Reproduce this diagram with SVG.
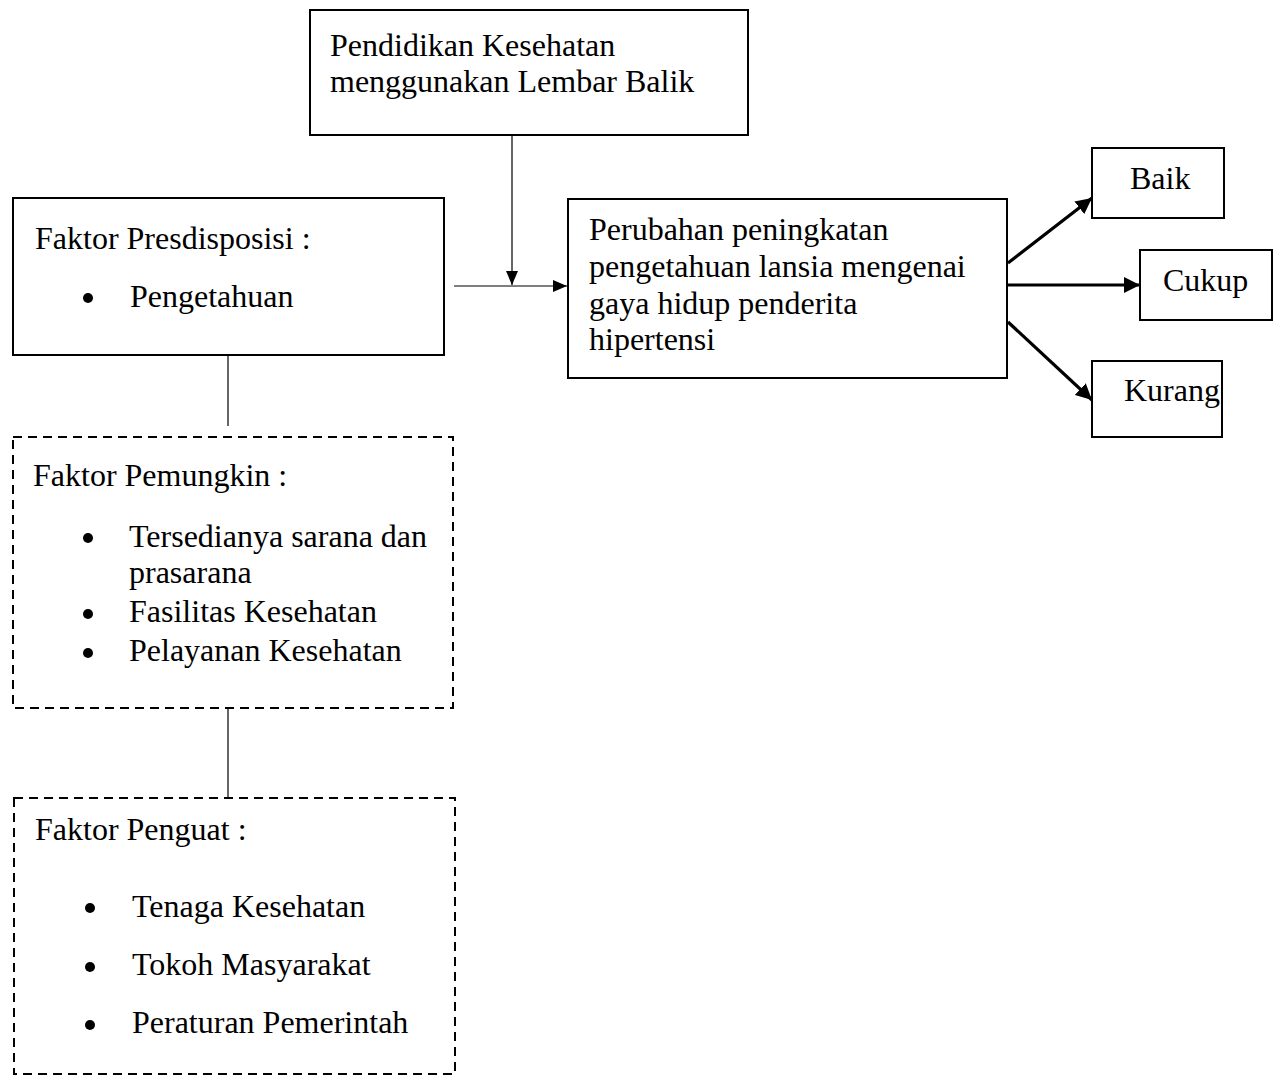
<svg xmlns="http://www.w3.org/2000/svg" width="1280" height="1077" viewBox="0 0 1280 1077">
<defs>
<style>
text{font-family:"Liberation Serif","Times New Roman",serif;font-size:32px;fill:#000}
.box{fill:#fff;stroke:#000;stroke-width:2}
.dash{fill:#fff;stroke:#000;stroke-width:2;stroke-dasharray:9,6}
.thin{stroke:#000;stroke-width:1.2;fill:none}
.thick{stroke:#000;stroke-width:3.2;fill:none}
</style>
<marker id="ah" markerWidth="14" markerHeight="14" viewBox="0 0 14 14" refX="14" refY="7" orient="auto" markerUnits="userSpaceOnUse">
<path d="M0,1 L14,7 L0,13 z" fill="#000"/>
</marker>
<marker id="ahb" markerWidth="16" markerHeight="16" viewBox="0 0 16 16" refX="16" refY="8" orient="auto" markerUnits="userSpaceOnUse">
<path d="M0,0 L16,8 L0,16 z" fill="#000"/>
</marker>
</defs>
<rect width="1280" height="1077" fill="#fff"/>
<g id="n-pendidikan">
<rect class="box" x="310" y="10" width="438" height="125"/>
<text x="330" y="56">Pendidikan Kesehatan</text>
<text x="330" y="92">menggunakan Lembar Balik</text>
</g>
<g id="n-predisposisi">
<rect class="box" x="13" y="198" width="431" height="157"/>
<text x="35" y="249">Faktor Presdisposisi :</text>
<circle cx="88" cy="298" r="5"/>
<text x="130" y="307">Pengetahuan</text>
</g>
<g id="n-perubahan">
<rect class="box" x="568" y="199" width="439" height="179"/>
<text x="589" y="240">Perubahan peningkatan</text>
<text x="589" y="277">pengetahuan lansia mengenai</text>
<text x="589" y="314">gaya hidup penderita</text>
<text x="589" y="350">hipertensi</text>
</g>
<g id="n-baik">
<rect class="box" x="1092" y="148" width="132" height="70"/>
<text x="1130" y="189">Baik</text>
</g>
<g id="n-cukup">
<rect class="box" x="1140" y="250" width="132" height="70"/>
<text x="1163" y="291">Cukup</text>
</g>
<g id="n-kurang">
<rect class="box" x="1092" y="361" width="130" height="76"/>
<text x="1124" y="401">Kurang</text>
</g>
<g id="n-pemungkin">
<rect class="dash" x="13" y="437" width="440" height="271"/>
<text x="33" y="486">Faktor Pemungkin :</text>
<circle cx="88" cy="538" r="5"/>
<text x="129" y="547">Tersedianya sarana dan</text>
<text x="129" y="583">prasarana</text>
<circle cx="88" cy="614" r="5"/>
<text x="129" y="622">Fasilitas Kesehatan</text>
<circle cx="88" cy="653" r="5"/>
<text x="129" y="661">Pelayanan Kesehatan</text>
</g>
<g id="n-penguat">
<rect class="dash" x="14" y="798" width="441" height="276"/>
<text x="35" y="840">Faktor Penguat :</text>
<circle cx="90" cy="908" r="5"/>
<text x="132" y="917">Tenaga Kesehatan</text>
<circle cx="90" cy="967" r="5"/>
<text x="132" y="975">Tokoh Masyarakat</text>
<circle cx="90" cy="1025" r="5"/>
<text x="132" y="1033">Peraturan Pemerintah</text>
</g>
<g id="connectors">
<line class="thin" x1="512" y1="136" x2="512" y2="285" marker-end="url(#ah)"/>
<line class="thin" x1="454" y1="286" x2="567" y2="286" marker-end="url(#ah)"/>
<line class="thin" x1="228" y1="356" x2="228" y2="426"/>
<line class="thin" x1="228" y1="709" x2="228" y2="797"/>
<line class="thick" x1="1008" y1="263" x2="1092" y2="198" marker-end="url(#ahb)"/>
<line class="thick" x1="1008" y1="285" x2="1140" y2="285" marker-end="url(#ahb)"/>
<line class="thick" x1="1008" y1="322" x2="1092" y2="400" marker-end="url(#ahb)"/>
</g>
</svg>
